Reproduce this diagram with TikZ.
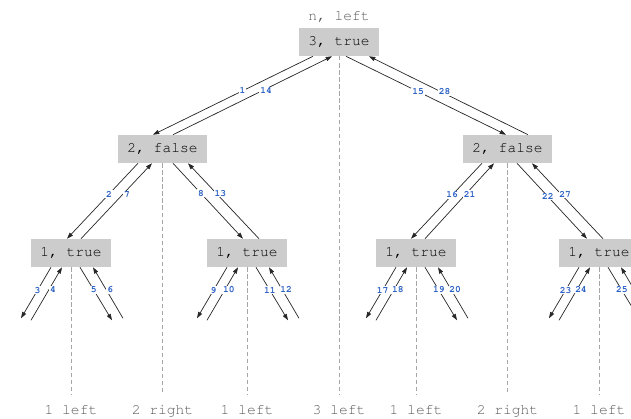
\documentclass[tikz,border=0pt]{standalone}
\usepackage[T1]{fontenc}
\usepackage{courier}
\usepackage{xcolor}
\usetikzlibrary{arrows.meta,calc}

\definecolor{boxgray}{RGB}{204,204,204}
\definecolor{numblue}{RGB}{40,95,195}
\newcommand{\cellfont}{\ttfamily\fontsize{10.4}{12}\selectfont}
\newcommand{\stepfont}{\ttfamily\bfseries\fontsize{6.8}{8}\selectfont}

\begin{document}
\begin{tikzpicture}[
        x=0.025cm, y=-0.025cm,
        box/.style={fill=boxgray, minimum height=0.7cm, inner xsep=0.225cm, font=\cellfont},
        note/.style={text=black!65, font=\cellfont},
        leaf/.style={note, inner xsep=2pt, inner ysep=7.5pt, text height=1.6ex, text depth=0pt},
        num/.style={fill=white, inner sep=0.6pt, text=numblue, font=\stepfont},
        numup/.style={num, xshift=0.1cm},
        arr/.style={-{Triangle[length=4.5pt,width=3pt]}, line width=0.5pt, black!85},
        guide/.style={gray!70, line width=0.4pt, dash pattern=on 3pt off 2pt}]
        \useasboundingbox (0,0) rectangle (631,419);
        % NODES
        % root
        \node[note] (hd) at (339,17) {n, left};
        \node[box] (n3) at (339,42) {3, true};
        % second level
        \node[box] (n2l) at (162.5,149) {2, false};
        \node[box] (n2r) at (507.5,149) {2, false};
        % third level
        \node[box] (n1a) at (71,253) {1, true};
        \node[box] (n1b) at (247,253) {1, true};
        \node[box] (n1c) at (416,253) {1, true};
        \node[box] (n1d) at (599,253) {1, true};
        % bottom captions
        \node[leaf] (c1) at (71,410) {1 left};
        \node[leaf] (c2) at (162.5,410) {2 right};
        \node[leaf] (c3) at (247,410) {1 left};
        \node[leaf] (c4) at (339,410) {3 left};
        \node[leaf] (c5) at (416,410) {1 left};
        \node[leaf] (c6) at (507.5,410) {2 right};
        \node[leaf] (c7) at (599,410) {1 left};
        % free ends below the third level
        \coordinate (n1a-dl) at ($(n1a.south)+(-50,51)$);
        \coordinate (n1a-ul) at ($(n1a.south)+(-40,53)$);
        \coordinate (n1a-dr) at ($(n1a.south)+(41,53)$);
        \coordinate (n1a-ur) at ($(n1a.south)+(52,51)$);
        \coordinate (n1b-dl) at ($(n1b.south)+(-50,51)$);
        \coordinate (n1b-ul) at ($(n1b.south)+(-40,53)$);
        \coordinate (n1b-dr) at ($(n1b.south)+(41,53)$);
        \coordinate (n1b-ur) at ($(n1b.south)+(52,51)$);
        \coordinate (n1c-dl) at ($(n1c.south)+(-50,51)$);
        \coordinate (n1c-ul) at ($(n1c.south)+(-40,53)$);
        \coordinate (n1c-dr) at ($(n1c.south)+(41,53)$);
        \coordinate (n1c-ur) at ($(n1c.south)+(52,51)$);
        \coordinate (n1d-dl) at ($(n1d.south)+(-50,51)$);
        \coordinate (n1d-ul) at ($(n1d.south)+(-40,53)$);
        \coordinate (n1d-dr) at ($(n1d.south)+(41,53)$);
        \coordinate (n1d-ur) at ($(n1d.south)+(52,51)$);

        % DASHED GUIDES
        \draw[guide] (n3.south) -- (c4.north);
        \draw[guide] (n2l.south) -- (c2.north);
        \draw[guide] (n2r.south) -- (c6.north);
        \draw[guide] (n1a.south) -- (c1.north);
        \draw[guide] (n1b.south) -- (c3.north);
        \draw[guide] (n1c.south) -- (c5.north);
        \draw[guide] (n1d.south) -- (c7.north);

        % ARROWS
        % root and second level
        \draw[arr] ($(n3.south)+(-26,0)$) -- node[num,pos=0.44] {1} ($(n2l.north)+(-9.5,0)$);
        \draw[arr] ($(n2l.north)+(10.5,0)$) -- node[numup,pos=0.56] {14} ($(n3.south)+(-7,0)$);
        \draw[arr] ($(n3.south)+(7,0)$) -- node[num,pos=0.45] {15} ($(n2r.north)+(-1.5,0)$);
        \draw[arr] ($(n2r.north)+(20.5,0)$) -- node[numup,pos=0.55] {28} ($(n3.south)+(30,0)$);
        % second and third level
        \draw[arr] ($(n2l.south)+(-24.5,0)$) -- node[num,pos=0.41] {2} ($(n1a.north)+(-4,0)$);
        \draw[arr] ($(n1a.north)+(10,0)$) -- node[numup,pos=0.59] {7} ($(n2l.south)+(-10.5,0)$);
        \draw[arr] ($(n2l.south)+(10.5,0)$) -- node[num,pos=0.4] {8} ($(n1b.north)+(-4,0)$);
        \draw[arr] ($(n1b.north)+(12,0)$) -- node[numup,pos=0.6] {13} ($(n2l.south)+(25.5,0)$);
        \draw[arr] ($(n2r.south)+(-25.5,0)$) -- node[num,pos=0.42] {16} ($(n1c.north)+(-5,0)$);
        \draw[arr] ($(n1c.north)+(9,0)$) -- node[numup,pos=0.59] {21} ($(n2r.south)+(-13.5,0)$);
        \draw[arr] ($(n2r.south)+(9.5,0)$) -- node[num,pos=0.44] {22} ($(n1d.north)+(-12,0)$);
        \draw[arr] ($(n1d.north)+(4,0)$) -- node[numup,pos=0.59] {27} ($(n2r.south)+(24.5,0)$);
        % third level and below
        \draw[arr] ($(n1a.south)+(-20,0)$) -- node[num,pos=0.45] {3} (n1a-dl);
        \draw[arr] (n1a-ul) -- node[numup,pos=0.58] {4} ($(n1a.south)+(-9,0)$);
        \draw[arr] ($(n1a.south)+(9,0)$) -- node[num,pos=0.43] {5} (n1a-dr);
        \draw[arr] (n1a-ur) -- node[numup,pos=0.56] {6} ($(n1a.south)+(22,0)$);
        \draw[arr] ($(n1b.south)+(-20,0)$) -- node[num,pos=0.45] {9} (n1b-dl);
        \draw[arr] (n1b-ul) -- node[numup,pos=0.58] {10} ($(n1b.south)+(-9,0)$);
        \draw[arr] ($(n1b.south)+(9,0)$) -- node[num,pos=0.43] {11} (n1b-dr);
        \draw[arr] (n1b-ur) -- node[numup,pos=0.56] {12} ($(n1b.south)+(22,0)$);
        \draw[arr] ($(n1c.south)+(-20,0)$) -- node[num,pos=0.45] {17} (n1c-dl);
        \draw[arr] (n1c-ul) -- node[numup,pos=0.58] {18} ($(n1c.south)+(-9,0)$);
        \draw[arr] ($(n1c.south)+(9,0)$) -- node[num,pos=0.43] {19} (n1c-dr);
        \draw[arr] (n1c-ur) -- node[numup,pos=0.56] {20} ($(n1c.south)+(22,0)$);
        \draw[arr] ($(n1d.south)+(-20,0)$) -- node[num,pos=0.45] {23} (n1d-dl);
        \draw[arr] (n1d-ul) -- node[numup,pos=0.58] {24} ($(n1d.south)+(-9,0)$);
        \draw[arr] ($(n1d.south)+(9,0)$) -- node[num,pos=0.43] {25} (n1d-dr);
        \draw[arr] (n1d-ur) -- node[numup,pos=0.56] {26} ($(n1d.south)+(22,0)$);
    \end{tikzpicture}
\end{document}
